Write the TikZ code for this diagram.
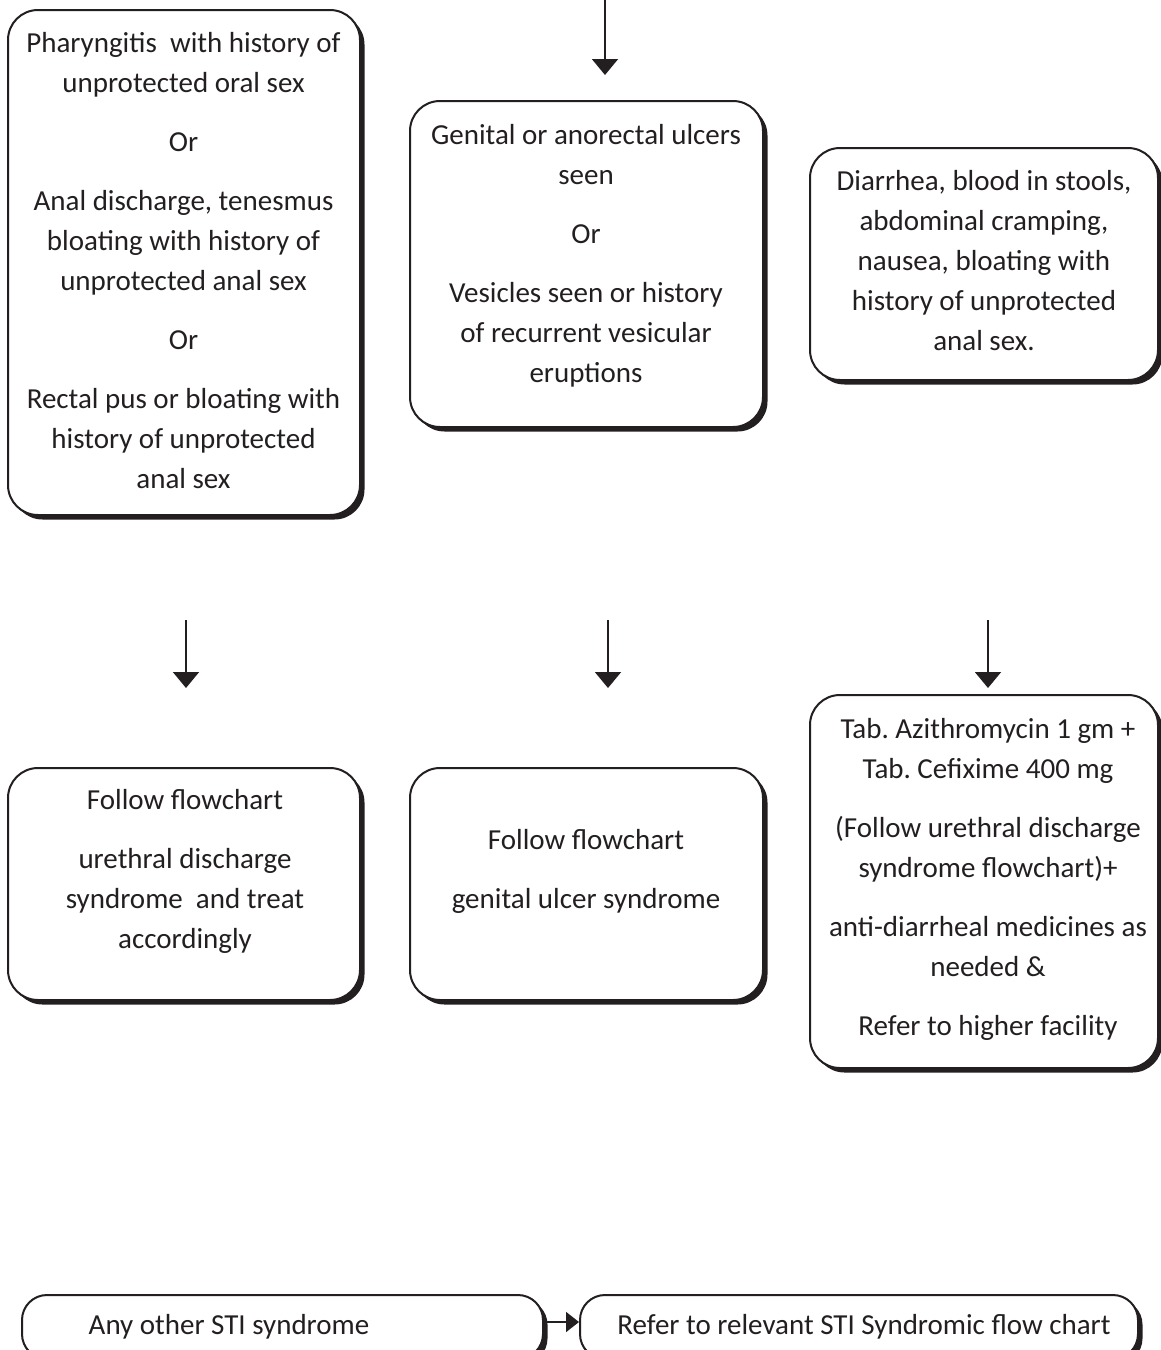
\documentclass[tikz,border=0pt]{standalone}
\usepackage{fontspec}
\setmainfont{Carlito}
\usetikzlibrary{arrows.meta,shadows}
\definecolor{ink}{HTML}{231F20}
\frenchspacing
\begin{document}
\begin{tikzpicture}[x=1pt,y=-1pt,
  box/.style={draw=ink, line width=2pt, fill=white, rounded corners=30pt,
    inner sep=0pt,
    drop shadow={shadow xshift=4.5pt, shadow yshift=-4.5pt, opacity=1, fill=ink}},
  pill/.style={box, rounded corners=25pt},
  txt/.style={align=center, inner sep=0pt, text=ink,
    font=\fontsize{29}{40}\selectfont,
    execute at begin node=\strut, execute at end node=\strut},
  arr/.style={draw=ink, line width=1.8pt, -{Triangle[width=26pt,length=16pt]}},
  arrs/.style={draw=ink, line width=1.8pt, -{Triangle[width=20pt,length=13pt]}}]
\path[use as bounding box] (0,0) rectangle (1161,1350);
\clip (0,0) rectangle (1161,1350);

% first row of boxes
\node[box, minimum width=352pt, minimum height=505pt] (A) at (184,262.5) {};
\node[txt] (tA) at (183.5,266) {Pharyngitis~ with history of\\ unprotected oral sex\\[19pt]
  Or\\[19pt]
  Anal discharge, tenesmus\\ bloating with history of\\ unprotected anal sex\\[19pt]
  Or\\[19pt]
  Rectal pus or bloating with\\ history of unprotected\\ anal sex};

\node[box, minimum width=353pt, minimum height=326pt] (B) at (586.5,264) {};
\node[txt] (tB) at (586,259.5) {Genital or anorectal ulcers\\ seen\\[19pt]
  Or\\[19pt]
  Vesicles seen or history\\ of recurrent vesicular\\ eruptions};

\node[box, minimum width=348pt, minimum height=232pt] (C) at (984,264) {};
\node[txt] (tC) at (984,266) {Diarrhea, blood in stools,\\ abdominal cramping,\\
  nausea, bloating with\\ history of unprotected\\ anal sex.};

% second row of boxes
\node[box, minimum width=352pt, minimum height=232pt] (D) at (184,884) {};
\node[txt] (tD) at (185,874.5) {Follow flowchart\\[19pt]
  urethral discharge\\ syndrome~ and treat\\ accordingly};

\node[box, minimum width=353pt, minimum height=232pt] (E) at (586.5,884) {};
\node[txt] (tE) at (586,874.5) {Follow flowchart\\[19pt] genital ulcer syndrome};

\node[box, minimum width=348pt, minimum height=373pt] (F) at (984,881.5) {};
\node[txt] (tF) at (988,883) {Tab. Azithromycin 1 gm +\\ Tab. Cefixime 400 mg\\[19pt]
  (Follow urethral discharge\\ syndrome flowchart)+\\[19pt]
  anti-diarrheal medicines as\\ needed \&\\[19pt]
  Refer to higher facility};

% bottom row
\node[pill, minimum width=521pt, minimum height=64pt] (G) at (282.5,1327) {};
\node[txt] (tG) at (229,1326) {Any other STI syndrome};
\node[pill, minimum width=558pt, minimum height=64pt] (H) at (859,1327) {};
\node[txt] (tH) at (864,1326) {Refer to relevant STI Syndromic flow chart};

% arrow ends
\coordinate (s0) at (605,-2);   \coordinate (e0) at (605,75);
\coordinate (s1) at (186,620);  \coordinate (e1) at (186,688);
\coordinate (s2) at (608,620);  \coordinate (e2) at (608,688);
\coordinate (s3) at (988,620);  \coordinate (e3) at (988,688);

\draw[arr] (s0) -- (e0);
\draw[arr] (s1) -- (e1);
\draw[arr] (s2) -- (e2);
\draw[arr] (s3) -- (e3);
\draw[arrs] ([yshift=5pt]G.east) -- ([yshift=5pt]H.west);
\end{tikzpicture}
\end{document}
